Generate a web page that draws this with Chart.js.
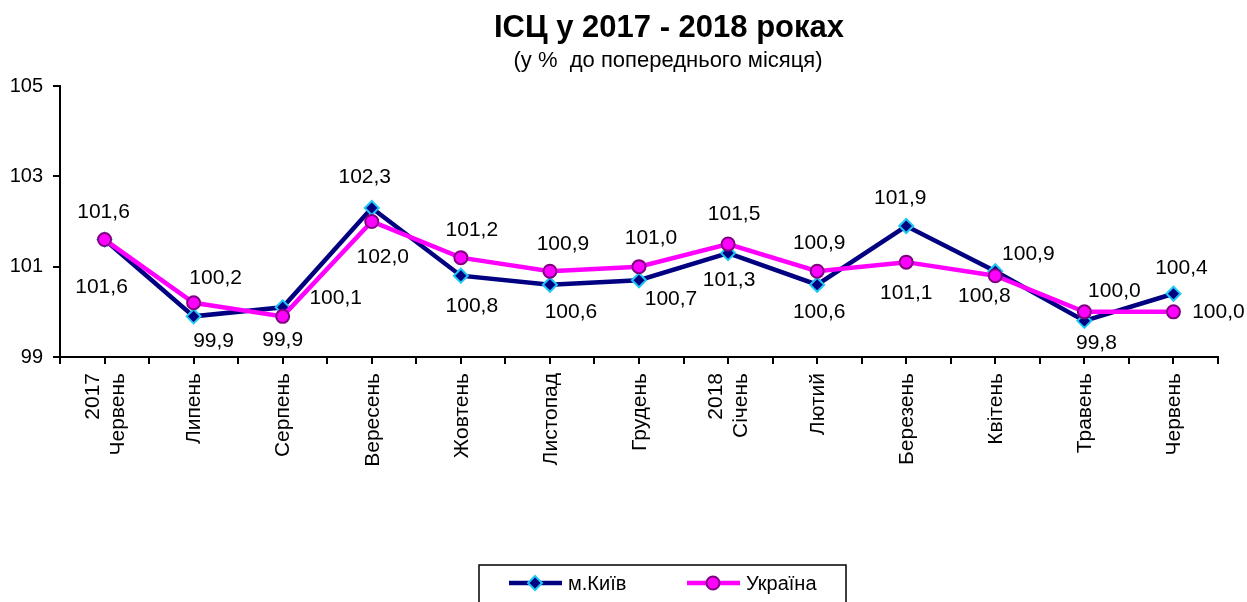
<!DOCTYPE html>
<html>
<head>
<meta charset="utf-8">
<script src="https://cdn.jsdelivr.net/npm/chart.js@4"></script>
<style>
    body { margin: 0; background: #fff; }
</style>
</head>
<body>
<canvas id="cpi" width="1247" height="602"></canvas>
<script>
const months = [['2017', 'Червень'], 'Липень', 'Серпень', 'Вересень', 'Жовтень', 'Листопад', 'Грудень',
    ['2018', 'Січень'], 'Лютий', 'Березень', 'Квітень', 'Травень', 'Червень'];
const kyiv = [101.6, 99.9, 100.1, 102.3, 100.8, 100.6, 100.7, 101.3, 100.6, 101.9, 100.9, 99.8, 100.4];
const ukraine = [101.6, 100.2, 99.9, 102.0, 101.2, 100.9, 101.0, 101.5, 100.9, 101.1, 100.8, 100.0, 100.0];
const yTicks = [99, 101, 103, 105];

// nudges for the value labels, relative to each point (px)
const kyivLabelShift = [[-3, 48], [20, 25], [53, -9], [-7, -31], [11, 31], [21, 27], [32, 19],
    [1, 27], [2, 27], [-6, -28], [33, -17], [12, 22], [8, -26]];
const ukraineLabelShift = [[-1, -27], [22, -25], [0, 24], [11, 36], [11, -27], [13, -27], [12, -28],
    [6, -30], [2, -28], [0, 31], [-11, 21], [30, -21], [45, 0]];

const FONT = '"Liberation Sans", Arial, sans-serif';
Chart.defaults.font.family = FONT;
Chart.defaults.color = '#000';

const decorations = {
    id: 'decorations',
    afterDatasetsDraw(chart) {
        const ctx = chart.ctx;
        ctx.save();
        ctx.fillStyle = '#000';
        ctx.textAlign = 'center';
        ctx.textBaseline = 'middle';
        ctx.font = '21px ' + FONT;
        [kyivLabelShift, ukraineLabelShift].forEach((shift, di) => {
            const meta = chart.getDatasetMeta(di);
            const vals = chart.data.datasets[di].data;
            meta.data.forEach((pt, i) => {
                const txt = vals[i].toFixed(1).replace('.', ',');
                ctx.fillText(txt, pt.x + shift[i][0], pt.y + shift[i][1]);
            });
        });
        ctx.restore();
    },
    afterDraw(chart) {
        const ctx = chart.ctx;
        const x = chart.scales.x;
        ctx.save();
        // tick marks between categories
        const half = (x.getPixelForValue(1) - x.getPixelForValue(0)) / 2;
        ctx.strokeStyle = '#000';
        ctx.lineWidth = 2;
        ctx.beginPath();
        for (let i = 0; i <= months.length; i++) {
            const px = Math.round(x.getPixelForValue(0) - half + i * 2 * half);
            ctx.moveTo(px, x.top);
            ctx.lineTo(px, x.top + 7);
        }
        ctx.stroke();

        // category labels, rotated, lines centred on the category
        ctx.fillStyle = '#000';
        ctx.font = '21px ' + FONT;
        ctx.textAlign = 'right';
        ctx.textBaseline = 'middle';
        months.forEach((m, i) => {
            const lines = Array.isArray(m) ? m : [m];
            const cx = x.getPixelForValue(i);
            lines.forEach((ln, k) => {
                const lx = cx + (k - (lines.length - 1) / 2) * 25;
                ctx.save();
                ctx.translate(lx, x.top + 16);
                ctx.rotate(-Math.PI / 2);
                ctx.fillText(ln, 0, 1);
                ctx.restore();
            });
        });

        // titles
        ctx.textAlign = 'center';
        ctx.font = 'bold 31px ' + FONT;
        ctx.fillText('ІСЦ у 2017 - 2018 роках', 669, 28);
        ctx.font = '22px ' + FONT;
        ctx.fillText('(у %  до попереднього місяця)', 668, 61);

        // legend box
        ctx.lineWidth = 1.5;
        ctx.strokeStyle = '#000';
        ctx.strokeRect(479, 565, 367, 60);
        const items = [
            { ds: chart.data.datasets[0], x: 509, label: 'м.Київ' },
            { ds: chart.data.datasets[1], x: 687, label: 'Україна' }
        ];
        items.forEach(it => {
            ctx.strokeStyle = it.ds.borderColor;
            ctx.lineWidth = it.ds.borderWidth;
            ctx.beginPath();
            ctx.moveTo(it.x, 583);
            ctx.lineTo(it.x + 53, 583);
            ctx.stroke();
            ctx.fillStyle = it.ds.pointBackgroundColor;
            ctx.strokeStyle = it.ds.pointBorderColor;
            ctx.lineWidth = it.ds.pointBorderWidth;
            ctx.beginPath();
            const r = it.ds.pointRadius;
            if (it.ds.pointStyle === 'circle') {
                ctx.arc(it.x + 26, 583, r, 0, Math.PI * 2);
            } else {
                ctx.moveTo(it.x + 26, 583 - r);
                ctx.lineTo(it.x + 26 + r, 583);
                ctx.lineTo(it.x + 26, 583 + r);
                ctx.lineTo(it.x + 26 - r, 583);
                ctx.closePath();
            }
            ctx.fill();
            ctx.stroke();
            ctx.fillStyle = '#000';
            ctx.textAlign = 'left';
            ctx.font = '20px ' + FONT;
            ctx.fillText(it.label, it.x + 59, 584);
        });
        ctx.restore();
    }
};

new Chart(document.getElementById('cpi'), {
    type: 'line',
    data: {
        labels: months,
        datasets: [
            {
                label: 'м.Київ',
                data: kyiv,
                borderColor: '#000080',
                borderWidth: 4.5,
                pointStyle: 'rectRot',
                pointRadius: 7,
                pointHoverRadius: 7,
                pointBackgroundColor: '#000080',
                pointBorderColor: '#1ec8f5',
                pointBorderWidth: 2,
                tension: 0,
                order: 1
            },
            {
                label: 'Україна',
                data: ukraine,
                borderColor: '#ff00ff',
                borderWidth: 4.5,
                pointStyle: 'circle',
                pointRadius: 6.5,
                pointHoverRadius: 6.5,
                pointBackgroundColor: '#ff00ff',
                pointBorderColor: '#800080',
                pointBorderWidth: 2,
                tension: 0,
                order: 0
            }
        ]
    },
    options: {
        responsive: false,
        animation: false,
        layout: { padding: { left: 0, top: 86, right: 29, bottom: 0 } },
        plugins: {
            legend: { display: false },
            title: { display: false },
            tooltip: { enabled: false }
        },
        scales: {
            x: {
                offset: true,
                afterFit(scale) { scale.height = 245; },
                grid: { offset: false, drawOnChartArea: false, tickLength: 7, color: '#000', lineWidth: 2 },
                border: { color: '#000', width: 2 },
                ticks: { display: false, autoSkip: false }
            },
            y: {
                min: 99,
                max: 105,
                afterFit(scale) { scale.width = 60; },
                afterBuildTicks(scale) { scale.ticks = yTicks.map(v => ({ value: v })); },
                grid: { drawOnChartArea: false, tickLength: 7, color: '#000', lineWidth: 2 },
                border: { color: '#000', width: 2 },
                ticks: { padding: 10, font: { size: 20 }, color: '#000' }
            }
        }
    },
    plugins: [decorations]
});
</script>
</body>
</html>
